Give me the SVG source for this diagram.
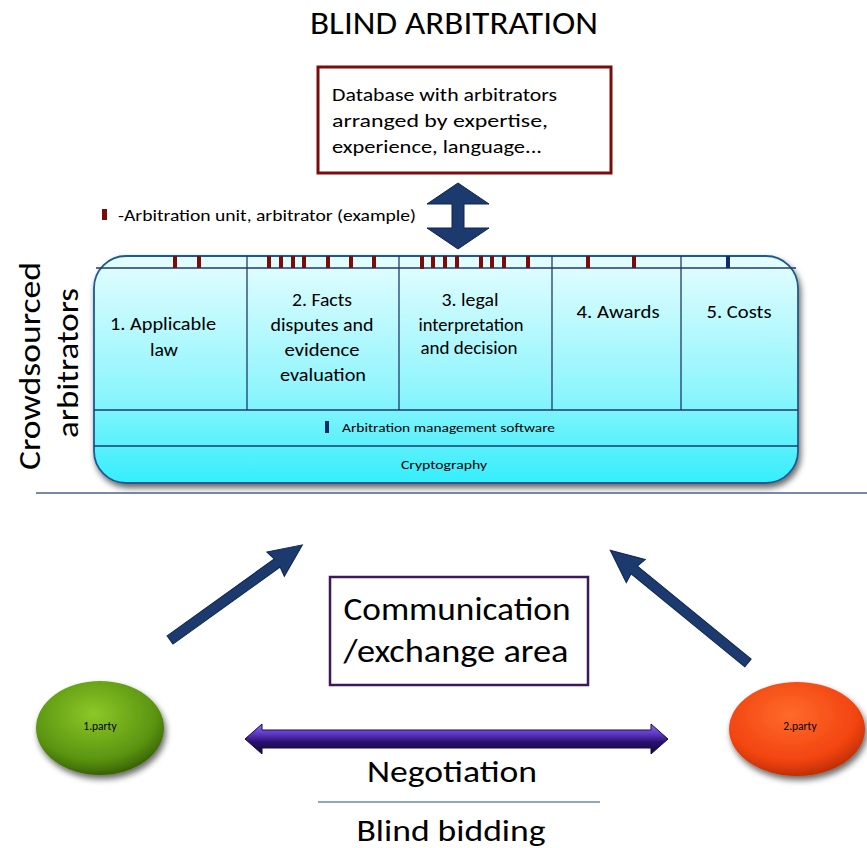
<svg xmlns="http://www.w3.org/2000/svg" width="867" height="848" viewBox="0 0 867 848">
<defs>
<style>
text{font-family:"Carlito","Liberation Sans","Open Sans",sans-serif;fill:#000}
.col{font-size:18.5px;text-anchor:middle}
.tick{fill:#7a0c0c}
.div{stroke:#1f3a6e;stroke-width:1.3;fill:none}
.navy{fill:#1c3a6e;stroke:#0e2350;stroke-width:1}
</style>
<linearGradient id="cyan" x1="0" y1="0" x2="0" y2="1">
<stop offset="0" stop-color="#e6fdff"/>
<stop offset="0.6" stop-color="#8ff5fc"/>
<stop offset="1" stop-color="#35eefc"/>
</linearGradient>
<linearGradient id="purp" x1="0" y1="0" x2="0" y2="1">
<stop offset="0" stop-color="#8a70f0"/>
<stop offset="0.35" stop-color="#5a34c0"/>
<stop offset="0.6" stop-color="#2a1070"/>
<stop offset="1" stop-color="#140630"/>
</linearGradient>
<radialGradient id="green" cx="0.45" cy="0.35" r="0.7">
<stop offset="0" stop-color="#8cc828"/>
<stop offset="0.7" stop-color="#5a9410"/>
<stop offset="1" stop-color="#2e5400"/>
</radialGradient>
<radialGradient id="orange" cx="0.45" cy="0.35" r="0.7">
<stop offset="0" stop-color="#ff6a2a"/>
<stop offset="0.7" stop-color="#f24410"/>
<stop offset="1" stop-color="#b02800"/>
</radialGradient>
<filter id="sh" x="-10%" y="-10%" width="120%" height="130%">
<feGaussianBlur in="SourceAlpha" stdDeviation="3"/>
<feOffset dx="2" dy="4"/>
<feComponentTransfer><feFuncA type="linear" slope="0.6"/></feComponentTransfer>
<feMerge><feMergeNode/><feMergeNode in="SourceGraphic"/></feMerge>
</filter>
</defs>
<rect width="867" height="848" fill="#fff"/>

<g id="title">
<text x="454" y="34" font-size="32" text-anchor="middle" textLength="288" lengthAdjust="spacingAndGlyphs">BLIND ARBITRATION</text>
</g>

<g id="database">
<rect x="318" y="67" width="293" height="106" fill="#fff" stroke="#7a0c0c" stroke-width="3"/>
<text x="332" y="101" font-size="18.5" textLength="225" lengthAdjust="spacingAndGlyphs">Database with arbitrators</text>
<text x="332" y="127" font-size="18.5" textLength="216" lengthAdjust="spacingAndGlyphs">arranged by expertise,</text>
<text x="332" y="153" font-size="18.5" textLength="210" lengthAdjust="spacingAndGlyphs">experience, language...</text>
</g>

<g id="legend">
<rect x="102" y="209" width="5" height="11" class="tick"/>
<text x="118" y="221" font-size="16" textLength="298" lengthAdjust="spacingAndGlyphs">-Arbitration unit, arbitrator (example)</text>
</g>

<g id="side-label">
<text transform="translate(40,366) rotate(-90)" font-size="31" text-anchor="middle" textLength="208" lengthAdjust="spacingAndGlyphs">Crowdsourced</text>
<text transform="translate(78,363) rotate(-90)" font-size="31" text-anchor="middle" textLength="150" lengthAdjust="spacingAndGlyphs">arbitrators</text>
</g>

<g id="arbitration-panel">
<rect x="94" y="256" width="704" height="227" rx="32" ry="32" fill="url(#cyan)" stroke="#1f5a90" stroke-width="1.8" filter="url(#sh)"/>
<line x1="96" y1="268" x2="796" y2="268" class="div"/>
<line x1="94" y1="410" x2="798" y2="410" class="div"/>
<line x1="94" y1="446" x2="798" y2="446" class="div"/>
<line x1="247" y1="256" x2="247" y2="410" class="div"/>
<line x1="399" y1="256" x2="399" y2="410" class="div"/>
<line x1="552" y1="256" x2="552" y2="410" class="div"/>
<line x1="681" y1="256" x2="681" y2="410" class="div"/>
<g id="ticks">
<rect x="173" y="256" width="4" height="12" class="tick"/>
<rect x="197" y="256" width="4" height="12" class="tick"/>
<rect x="267" y="256" width="4" height="12" class="tick"/>
<rect x="279" y="256" width="4" height="12" class="tick"/>
<rect x="291" y="256" width="4" height="12" class="tick"/>
<rect x="302" y="256" width="4" height="12" class="tick"/>
<rect x="326" y="256" width="4" height="12" class="tick"/>
<rect x="349" y="256" width="4" height="12" class="tick"/>
<rect x="372" y="256" width="4" height="12" class="tick"/>
<rect x="420" y="256" width="4" height="13" class="tick"/>
<rect x="431" y="256" width="4" height="12" class="tick"/>
<rect x="443" y="256" width="4" height="12" class="tick"/>
<rect x="455" y="256" width="4" height="12" class="tick"/>
<rect x="479" y="256" width="4" height="12" class="tick"/>
<rect x="490" y="256" width="4" height="12" class="tick"/>
<rect x="502" y="256" width="4" height="12" class="tick"/>
<rect x="526" y="256" width="4" height="12" class="tick"/>
<rect x="586" y="256" width="4" height="12" class="tick"/>
<rect x="632" y="256" width="4" height="12" class="tick"/>
<rect x="726" y="256" width="4" height="12" fill="#0e2a6a"/>
</g>
<text x="163" y="330" class="col" textLength="106" lengthAdjust="spacingAndGlyphs">1. Applicable</text>
<text x="164" y="356" class="col" textLength="28" lengthAdjust="spacingAndGlyphs">law</text>
<text x="322" y="306" class="col" textLength="60" lengthAdjust="spacingAndGlyphs">2. Facts</text>
<text x="322" y="331" class="col" textLength="103" lengthAdjust="spacingAndGlyphs">disputes and</text>
<text x="322" y="356" class="col" textLength="75" lengthAdjust="spacingAndGlyphs">evidence</text>
<text x="323" y="381" class="col" textLength="86" lengthAdjust="spacingAndGlyphs">evaluation</text>
<text x="470" y="306" class="col" textLength="57" lengthAdjust="spacingAndGlyphs">3. legal</text>
<text x="471" y="331" class="col" textLength="105" lengthAdjust="spacingAndGlyphs">interpretation</text>
<text x="469" y="354" class="col" textLength="97" lengthAdjust="spacingAndGlyphs">and decision</text>
<text x="618" y="318" class="col" textLength="83" lengthAdjust="spacingAndGlyphs">4. Awards</text>
<text x="739" y="318" class="col" textLength="65" lengthAdjust="spacingAndGlyphs">5. Costs</text>
<rect x="325" y="421" width="4" height="12" fill="#0e2a6a"/>
<text x="342" y="432" font-size="13" textLength="213" lengthAdjust="spacingAndGlyphs">Arbitration management software</text>
<text x="444" y="469" font-size="13" text-anchor="middle" textLength="86" lengthAdjust="spacingAndGlyphs">Cryptography</text>
</g>

<g id="communication">
<rect x="330" y="577" width="258" height="108" fill="#fff" stroke="#3a1a5a" stroke-width="2.5"/>
<text x="457" y="620" font-size="32" text-anchor="middle" textLength="227" lengthAdjust="spacingAndGlyphs">Communication</text>
<text x="456" y="662" font-size="32" text-anchor="middle" textLength="225" lengthAdjust="spacingAndGlyphs">/exchange  area</text>
</g>

<g id="party1">
<ellipse cx="100" cy="728" rx="64" ry="47" fill="url(#green)" filter="url(#sh)"/>
<text x="100" y="730" font-size="11.5" text-anchor="middle">1.party</text>
</g>

<g id="party2">
<ellipse cx="797" cy="729" rx="68" ry="47" fill="url(#orange)" filter="url(#sh)"/>
<text x="800" y="730" font-size="11.5" text-anchor="middle">2.party</text>
</g>

<g id="bottom-labels">
<text x="452" y="782" font-size="30" text-anchor="middle" textLength="170" lengthAdjust="spacingAndGlyphs">Negotiation</text>
<text x="451" y="841" font-size="30" text-anchor="middle" textLength="189" lengthAdjust="spacingAndGlyphs">Blind bidding</text>
</g>

<g id="connectors">
<line x1="36" y1="493" x2="867" y2="493" stroke="#4a6090" stroke-width="1.5"/>
<line x1="318" y1="802" x2="600" y2="802" stroke="#2a4a8a" stroke-width="1.2"/>
<polygon class="navy" points="458,183 489,204 464,204 464,228 489,228 458,249 427,228 452,228 452,204 427,204"/>
<polygon class="navy" transform="translate(170,640) rotate(-35.7)" points="0,-5 132,-5 130,-15 163,0 130,15 132,5 0,5"/>
<polygon class="navy" transform="translate(748,663) rotate(-140.7)" points="0,-5 147,-5 145,-15 178,0 145,15 147,5 0,5"/>
<polygon fill="url(#purp)" stroke="#1a0840" stroke-width="1" points="245,739 262,724 262,730 651,730 651,724 668,739 651,754 651,748 262,748 262,754"/>
</g>
</svg>
